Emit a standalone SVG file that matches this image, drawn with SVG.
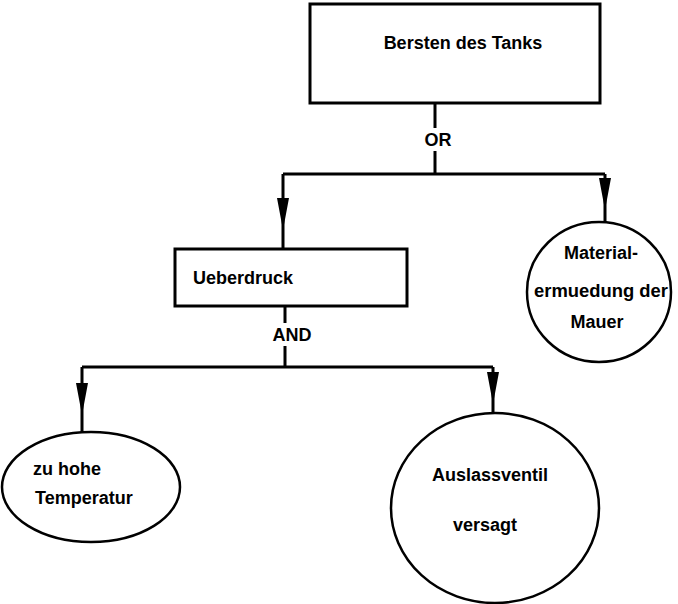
<svg xmlns="http://www.w3.org/2000/svg" width="678" height="604" viewBox="0 0 678 604">
<style>
.box{fill:#fff;stroke:#000;stroke-width:3}
.ell{fill:#fff;stroke:#000;stroke-width:2.5}
.ln{fill:none;stroke:#000;stroke-width:3}
.t{font-family:"Liberation Sans",Arial,sans-serif;font-weight:bold;font-size:18px;fill:#000}
</style>
<defs>
<path id="ah" d="M-6,0 L6,0 L0,32 Z" fill="#000"/>
</defs>
<g id="connectors">
<path class="ln" d="M435,103 V128 M435,151 V174 M283,174 H605 M283,174 V249 M605,174 V222"/>
<path class="ln" d="M285,306 V323 M285,346 V367 M82,367 H493 M82,367 V432 M493,367 V413"/>
<use href="#ah" x="283" y="198"/>
<use href="#ah" x="605" y="178"/>
<use href="#ah" x="82" y="383"/>
<use href="#ah" x="493" y="372"/>
<text class="t" x="438" y="146" text-anchor="middle">OR</text>
<text class="t" x="292" y="341" text-anchor="middle">AND</text>
</g>
<g id="bersten">
<rect class="box" x="310" y="4" width="290" height="99"/>
<text class="t" x="463" y="49" text-anchor="middle">Bersten des Tanks</text>
</g>
<g id="ueberdruck">
<rect class="box" x="175" y="249" width="232" height="57"/>
<text class="t" x="193" y="284">Ueberdruck</text>
</g>
<g id="material">
<ellipse class="ell" cx="599" cy="292" rx="72" ry="70"/>
<text class="t" x="601" y="259" text-anchor="middle">Material-</text>
<text class="t" x="534" y="297" textLength="134" lengthAdjust="spacingAndGlyphs">ermuedung der</text>
<text class="t" x="597" y="328" text-anchor="middle">Mauer</text>
</g>
<g id="temperatur">
<ellipse class="ell" cx="91" cy="487" rx="89" ry="55"/>
<text class="t" x="33" y="475">zu hohe</text>
<text class="t" x="35" y="504">Temperatur</text>
</g>
<g id="auslassventil">
<ellipse class="ell" cx="495" cy="508" rx="104" ry="95"/>
<text class="t" x="432" y="481">Auslassventil</text>
<text class="t" x="453" y="531">versagt</text>
</g>
</svg>
